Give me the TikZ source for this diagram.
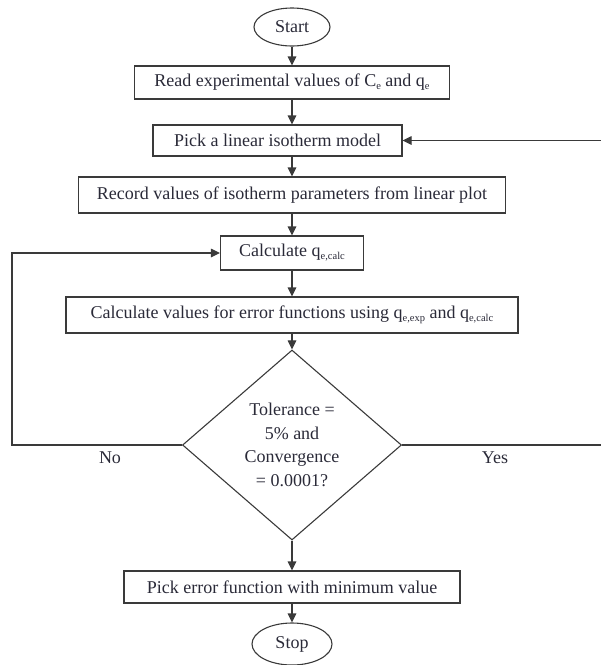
\documentclass[tikz,border=0pt]{standalone}
\usepackage{fontspec}
\setmainfont{Liberation Serif}
\usetikzlibrary{shapes.geometric,arrows.meta}
\definecolor{ln}{HTML}{3A3A3A}
\definecolor{tx}{HTML}{2A2A38}
\newcommand\sbs[1]{\raisebox{-0.35ex}{\fontsize{10.5}{10.5}\selectfont #1}}
\begin{document}
\begin{tikzpicture}[x=1pt,y=-1pt,
  every node/.style={text=tx,font=\fontsize{18}{23.7}\selectfont},
  procbox/.style={draw=ln,line width=1.1pt,rectangle,inner sep=0pt},
  term/.style={draw=ln,line width=1.1pt,ellipse,inner sep=0pt},
  decide/.style={draw=ln,line width=1.1pt,diamond,inner sep=0pt,align=center},
  flow/.style={draw=ln,line width=1.1pt,-{Triangle[length=9pt,width=8.5pt]}},
  plain/.style={draw=ln,line width=1.1pt},
  lbl/.style={font=\fontsize{18}{20}\selectfont}]
\useasboundingbox (0,0) rectangle (601,665);
\node[term,minimum width=76pt,minimum height=38pt] (start) at (292,27) {Start};
\node[procbox,minimum width=315pt,minimum height=33pt] (b1) at (292,82.5) {Read experimental values of C\sbs{e} and q\sbs{e}};
\node[procbox,minimum width=249pt,minimum height=31pt] (b2) at (277.5,140.5) {Pick a linear isotherm model};
\node[procbox,minimum width=427pt,minimum height=36pt] (b3) at (292,195) {Record values of isotherm parameters from linear plot};
\node[procbox,minimum width=143pt,minimum height=34pt] (b4) at (292,253) {Calculate q\sbs{e,calc}};
\node[procbox,minimum width=452pt,minimum height=36pt] (b5) at (292,315) {Calculate values for error functions using q\sbs{e,exp} and q\sbs{e,calc}};
\node[decide,minimum width=219pt,minimum height=190pt] (dec) at (292,445) {Tolerance =\\5\% and\\Convergence\\= 0.0001?};
\node[procbox,minimum width=336pt,minimum height=32pt] (b6) at (292,587) {Pick error function with minimum value};
\node[term,minimum width=80pt,minimum height=42pt] (stop) at (292,644) {Stop};
\coordinate (nocorner) at (12,445);
\coordinate (yesend) at (601,445);
\coordinate (backin) at (601,140.5);
\draw[flow] (start) -- (b1);
\draw[flow] (b1.south) -- (b1.south |- b2.north);
\draw[flow] (b1.south |- b2.south) -- (b3.north);
\draw[flow] (b3) -- (b4);
\draw[flow] (b4) -- (b5);
\draw[flow] (b5) -- (dec);
\draw[flow] (dec) -- (b6);
\draw[flow] (b6) -- (stop);
\draw[flow] (dec.west) -- (nocorner) |- (b4.west);
\draw[plain] (dec.east) -- (yesend);
\draw[flow] (backin) -- (b2.east);
\node[lbl] (no) at (110,458) {No};
\node[lbl] (yes) at (495,458) {Yes};
\end{tikzpicture}
\end{document}
